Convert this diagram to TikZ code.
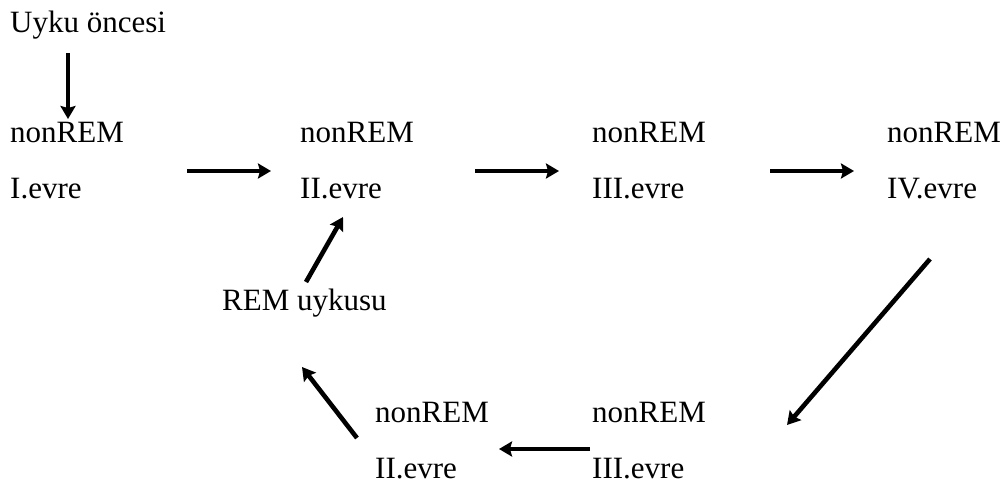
\documentclass[tikz,border=0pt]{standalone}
\usepackage{fontspec}
\setmainfont{Liberation Serif}
\usetikzlibrary{arrows.meta}
\begin{document}
\begin{tikzpicture}[x=1pt,y=-1pt,
  lbl/.style={anchor=base west,inner sep=0pt,font=\fontsize{31}{37}\selectfont},
  arr/.style={line width=4.6pt,-{Stealth[length=13pt,width=15pt,inset=2pt]}}]
\useasboundingbox (0,0) rectangle (1008,487);
% texts
\node[lbl] (pre) at (10,33) {Uyku öncesi};
\node[lbl] (a1) at (10,142) {nonREM};
\node[lbl] (a2) at (10,198) {I.evre};
\node[lbl] (b1) at (300,142) {nonREM};
\node[lbl] (b2) at (300,198) {II.evre};
\node[lbl] (c1) at (592,142) {nonREM};
\node[lbl] (c2) at (592,198) {III.evre};
\node[lbl] (d1) at (887,142) {nonREM};
\node[lbl] (d2) at (887,198) {IV.evre};
\node[lbl] (rem) at (222,310) {REM uykusu};
\node[lbl] (e1) at (375,422) {nonREM};
\node[lbl] (e2) at (375,478) {II.evre};
\node[lbl] (f1) at (592,422) {nonREM};
\node[lbl] (f2) at (592,478) {III.evre};
% arrow end points
\coordinate (p0) at (68,53);  \coordinate (p1) at (68,119);
\coordinate (h1s) at (187,171); \coordinate (h1e) at (271,171);
\coordinate (h2s) at (475,171); \coordinate (h2e) at (559,171);
\coordinate (h3s) at (770,171); \coordinate (h3e) at (854,171);
\coordinate (ds) at (930,259); \coordinate (de) at (787,425);
\coordinate (bs) at (590,449); \coordinate (be) at (499,449);
\coordinate (us) at (357,438); \coordinate (ue) at (302,367);
\coordinate (rs) at (306,282); \coordinate (re) at (343,217);
% arrows
\draw[arr] (p0) -- (p1);
\draw[arr] (h1s) -- (h1e);
\draw[arr] (h2s) -- (h2e);
\draw[arr] (h3s) -- (h3e);
\draw[arr] (ds) -- (de);
\draw[arr] (bs) -- (be);
\draw[arr] (us) -- (ue);
\draw[arr] (rs) -- (re);
\end{tikzpicture}
\end{document}
